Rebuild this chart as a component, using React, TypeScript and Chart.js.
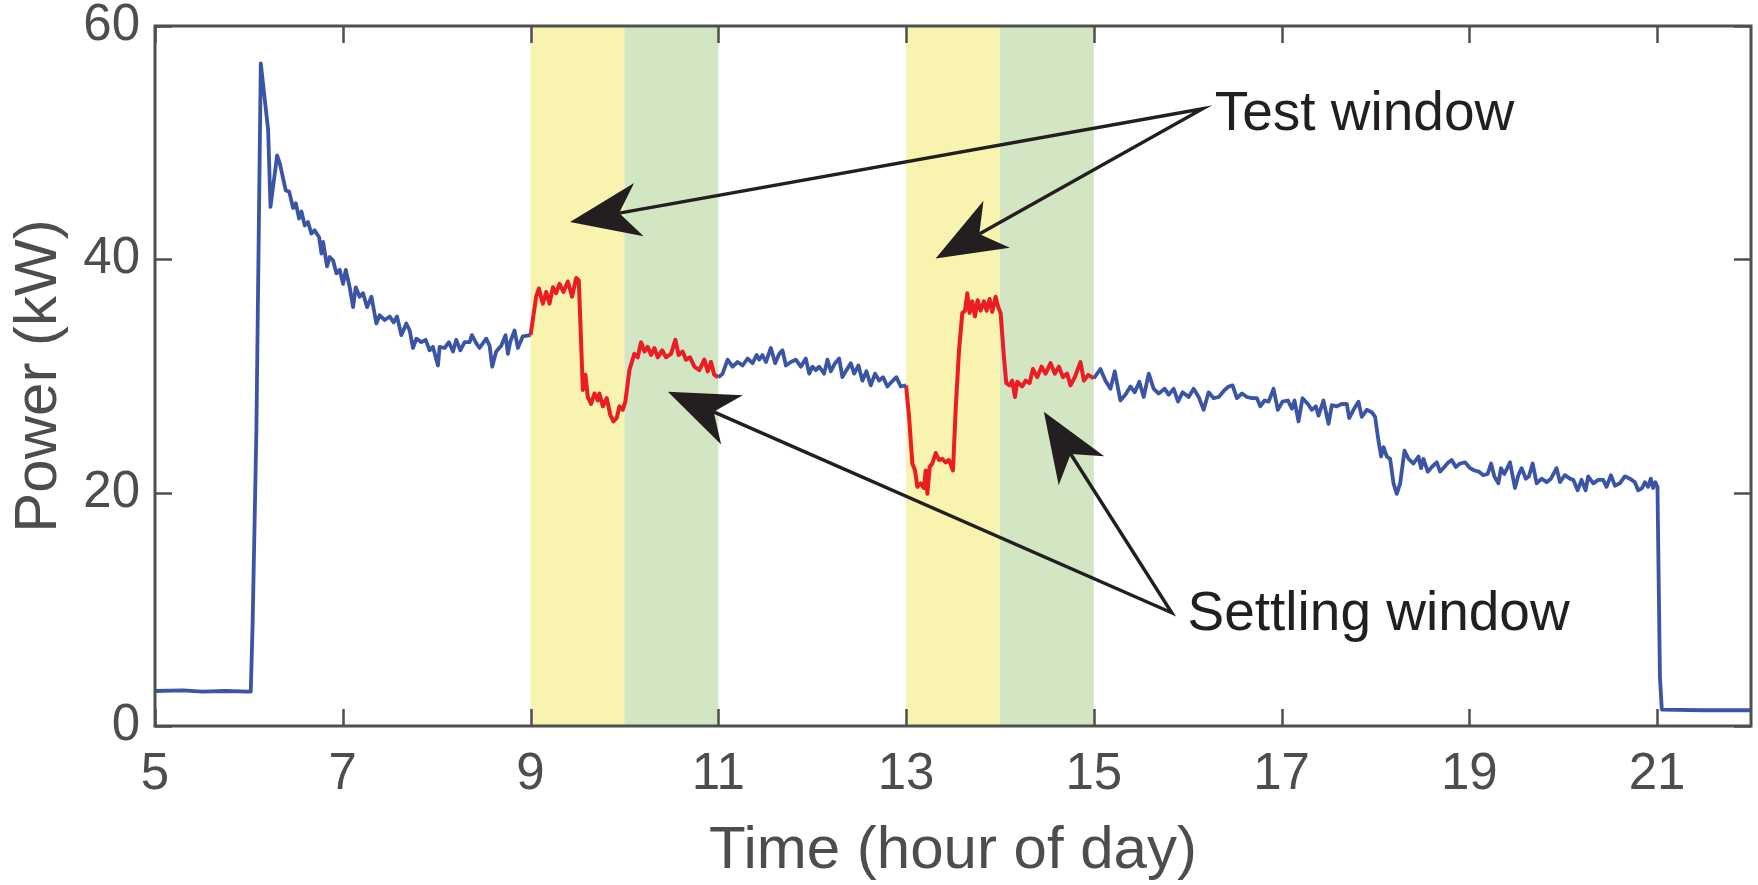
import React, { useEffect, useRef } from "react";
import { Chart, registerables } from "chart.js";

Chart.register(...registerables);

// ---------- data ----------
const X_TICKS = [5, 7, 9, 11, 13, 15, 17, 19, 21];
const Y_TICKS = [0, 20, 40, 60];
const X_RANGE = [5, 22];
const Y_RANGE = [0, 60];

// shaded windows [start hour, end hour]
const TEST_WINDOWS: [number, number][] = [[9, 10], [13, 14]];
const SETTLING_WINDOWS: [number, number][] = [[10, 11], [14, 15]];

// [hour, kW]
const BLUE_MORNING: [number, number][] = [
  [5.0, 3.0], [5.3, 3.05], [5.5, 2.95], [5.75, 3.0], [6.0, 2.95], [6.02, 2.95],
  [6.04, 8.8], [6.08, 25.4], [6.127, 56.8], [6.205, 51.1], [6.23, 44.5],
  [6.301, 48.9], [6.33, 48.2], [6.393, 45.9], [6.429, 45.8], [6.471, 44.4], [6.5, 44.8],
  [6.535, 43.5], [6.56, 44.1], [6.595, 42.9], [6.63, 43.2], [6.666, 42.2], [6.7, 42.5],
  [6.748, 41.9], [6.773, 40.5], [6.79, 41.5], [6.833, 39.4], [6.861, 40.2], [6.897, 39.9],
  [6.932, 38.8], [6.968, 39.1], [7.003, 37.9], [7.032, 39.1], [7.074, 37.6], [7.11, 35.9],
  [7.138, 37.6], [7.18, 36.8], [7.216, 37.1], [7.259, 35.9], [7.305, 36.8], [7.358, 34.5],
  [7.393, 35.2], [7.447, 34.8], [7.5, 35.1], [7.542, 34.6], [7.578, 35.1], [7.624, 33.5],
  [7.677, 34.5], [7.713, 33.9], [7.748, 32.4], [7.784, 33.2], [7.837, 32.9], [7.883, 33.1],
  [7.925, 32.2], [7.96, 32.5], [8.014, 30.9], [8.032, 32.5], [8.085, 32.4], [8.131, 32.9],
  [8.174, 32.1], [8.209, 33.1], [8.252, 32.2], [8.298, 32.9], [8.351, 32.9], [8.376, 33.5],
  [8.422, 32.8], [8.457, 32.4], [8.528, 33.2], [8.564, 32.6], [8.592, 30.8], [8.634, 32.1],
  [8.688, 32.6], [8.734, 33.5], [8.759, 31.9], [8.783, 32.9], [8.83, 33.9], [8.865, 32.4],
  [8.918, 33.4], [9.0, 33.5],
];

const RED_TEST_1: [number, number][] = [
  [9.0, 33.5], [9.06, 36.8], [9.089, 37.5], [9.131, 36.2], [9.167, 37.2], [9.202, 36.2],
  [9.238, 37.6], [9.273, 37.1], [9.309, 37.9], [9.351, 37.2], [9.397, 38.1], [9.443, 36.8],
  [9.486, 38.4], [9.514, 38.2], [9.539, 32.8], [9.557, 28.8], [9.585, 30.1], [9.61, 28.2],
  [9.645, 27.6], [9.681, 28.5], [9.716, 27.9], [9.734, 28.5], [9.77, 27.4], [9.812, 28.1],
  [9.848, 26.7], [9.883, 26.1], [9.918, 26.4], [9.947, 27.4], [9.982, 27.1], [10.01, 27.8],
  [10.053, 30.5], [10.106, 31.9], [10.142, 31.6], [10.177, 32.9], [10.213, 32.1],
  [10.248, 32.5], [10.284, 31.8], [10.319, 32.4], [10.355, 31.6], [10.401, 32.2],
  [10.443, 31.6], [10.496, 31.9], [10.543, 33.1], [10.578, 31.8], [10.62, 32.1],
  [10.656, 31.4], [10.699, 31.6], [10.745, 30.8], [10.798, 30.5], [10.851, 31.4],
  [10.887, 30.4], [10.922, 31.2], [10.957, 30.1], [11.0, 29.9],
];

const BLUE_MIDDAY: [number, number][] = [
  [11.0, 29.9], [11.046, 30.2], [11.099, 31.4], [11.152, 30.8], [11.206, 31.2],
  [11.259, 30.9], [11.312, 31.5], [11.365, 31.1], [11.408, 31.8], [11.436, 31.4],
  [11.47, 31.8], [11.507, 31.2], [11.56, 32.4], [11.606, 31.1], [11.649, 31.9],
  [11.684, 32.2], [11.72, 30.9], [11.773, 31.2], [11.826, 31.4], [11.879, 30.8],
  [11.932, 31.5], [11.968, 30.2], [12.003, 30.8], [12.039, 30.5], [12.074, 30.8],
  [12.127, 30.2], [12.163, 31.4], [12.198, 30.4], [12.244, 31.1], [12.287, 31.5],
  [12.322, 29.9], [12.365, 30.5], [12.411, 31.1], [12.447, 30.2], [12.493, 30.9],
  [12.535, 29.6], [12.578, 30.4], [12.624, 29.2], [12.67, 30.2], [12.713, 29.6],
  [12.755, 29.9], [12.801, 29.1], [12.847, 29.5], [12.897, 29.9], [12.943, 29.1],
  [13.0, 29.2],
];

const RED_TEST_2: [number, number][] = [
  [13.0, 29.2], [13.032, 26.5], [13.067, 22.5], [13.096, 21.9], [13.12, 20.5],
  [13.156, 20.8], [13.191, 20.4], [13.209, 21.9], [13.227, 19.9], [13.252, 22.2],
  [13.28, 22.5], [13.316, 23.4], [13.351, 22.8], [13.386, 22.9], [13.422, 22.6],
  [13.457, 22.8], [13.5, 21.9], [13.528, 27.1], [13.564, 32.2], [13.599, 35.4],
  [13.628, 35.6], [13.652, 37.1], [13.677, 35.4], [13.705, 36.4], [13.734, 35.1],
  [13.762, 36.5], [13.794, 35.6], [13.83, 36.4], [13.858, 35.6], [13.89, 36.6],
  [13.918, 35.5], [13.954, 36.8], [13.982, 35.9], [14.007, 35.4], [14.043, 31.6],
  [14.067, 29.4], [14.103, 29.2], [14.131, 29.6], [14.16, 28.2], [14.184, 29.5],
  [14.237, 29.1], [14.273, 29.6], [14.316, 29.4], [14.351, 30.6], [14.397, 29.9],
  [14.443, 30.8], [14.486, 30.2], [14.539, 31.1], [14.585, 30.2], [14.628, 30.8],
  [14.67, 29.9], [14.716, 30.2], [14.752, 29.2], [14.798, 29.9], [14.858, 31.2],
  [14.894, 29.6], [14.94, 30.1], [15.0, 29.8],
];

const BLUE_AFTERNOON: [number, number][] = [
  [15.0, 29.8], [15.07, 30.6], [15.124, 29.6], [15.177, 28.9], [15.223, 30.4],
  [15.283, 27.9], [15.336, 28.4], [15.39, 29.1], [15.436, 28.6], [15.485, 29.5],
  [15.531, 28.2], [15.585, 30.2], [15.638, 28.9], [15.691, 28.5], [15.755, 28.9],
  [15.797, 28.4], [15.851, 28.9], [15.897, 27.8], [15.946, 28.6], [16.01, 28.2],
  [16.063, 28.9], [16.117, 28.2], [16.17, 27.1], [16.223, 28.6], [16.276, 28.1],
  [16.33, 28.2], [16.393, 28.8], [16.436, 29.1], [16.478, 29.2], [16.524, 28.1],
  [16.578, 28.5], [16.631, 28.2], [16.684, 28.1], [16.737, 28.1], [16.773, 27.4],
  [16.819, 27.9], [16.862, 27.8], [16.914, 28.9], [16.96, 27.1], [17.01, 27.8],
  [17.067, 27.9], [17.11, 27.2], [17.138, 27.9], [17.18, 26.1], [17.223, 28.1],
  [17.28, 27.6], [17.322, 27.1], [17.365, 27.4], [17.393, 26.6], [17.446, 27.9],
  [17.5, 25.9], [17.535, 27.5], [17.588, 27.4], [17.642, 27.6], [17.695, 27.6],
  [17.72, 26.4], [17.766, 27.1], [17.819, 27.8], [17.854, 26.5], [17.907, 27.1],
  [17.96, 26.9], [17.996, 26.5], [18.031, 24.5], [18.06, 23.1], [18.086, 23.9],
  [18.121, 23.1], [18.156, 22.9], [18.192, 20.8], [18.227, 19.9], [18.263, 20.8],
  [18.309, 23.6], [18.352, 22.9], [18.405, 22.5], [18.458, 23.1], [18.486, 22.1],
  [18.511, 22.9], [18.557, 21.8], [18.6, 22.2], [18.653, 22.6], [18.688, 21.8],
  [18.734, 22.2], [18.777, 22.6], [18.812, 22.8], [18.855, 22.2], [18.901, 22.5],
  [18.954, 22.6], [19.008, 22.1], [19.054, 21.9], [19.103, 21.8], [19.149, 21.5],
  [19.195, 21.6], [19.231, 22.5], [19.266, 21.4], [19.309, 20.8], [19.337, 22.1],
  [19.373, 21.6], [19.433, 22.6], [19.486, 20.4], [19.522, 21.5], [19.557, 22.1],
  [19.6, 21.2], [19.635, 21.4], [19.674, 22.5], [19.717, 20.8], [19.77, 21.2],
  [19.823, 20.9], [19.869, 21.2], [19.929, 22.1], [19.965, 20.9], [20.018, 21.5],
  [20.071, 21.2], [20.107, 21.1], [20.153, 20.2], [20.195, 21.1], [20.238, 20.2],
  [20.266, 21.4], [20.32, 20.8], [20.373, 21.1], [20.426, 21.1], [20.461, 20.5],
  [20.508, 21.5], [20.55, 20.6], [20.603, 20.8], [20.656, 21.4], [20.709, 21.2],
  [20.763, 20.9], [20.798, 20.2], [20.841, 20.4], [20.869, 20.9], [20.904, 20.5],
  [20.933, 21.2], [20.957, 20.4], [20.982, 20.9], [21.004, 20.5], [21.011, 15.9],
  [21.03, 4.2], [21.05, 1.4], [21.5, 1.35], [22.0, 1.35],
];

// annotation anchors in data units [hour, kW]
const TEST_LABEL = { text: "Test window", at: [16.287, 51.07] as [number, number] };
const SETTLING_LABEL = { text: "Settling window", at: [15.998, 8.23] as [number, number] };
const TEST_TAIL: [number, number] = [16.16, 52.91];
const TEST_TIPS: [number, number][] = [[9.42, 43.21], [13.315, 40.08]];
const SETTLING_TAIL: [number, number] = [15.83, 9.71];
const SETTLING_TIPS: [number, number][] = [[10.463, 28.65], [14.468, 26.93]];

// ---------- styles ----------
const FONT = '"Liberation Sans", Arial, Helvetica, sans-serif';
const AXIS_COLOR = "#4f4f51";
const TEXT_COLOR = "#4d4d4f";
const BLUE = "#3a55a6";
const RED = "#ec1c24";
const YELLOW = "#f8f4b0";
const GREEN = "#d2e6c4";
const INK = "#231f20";

const toXY = (arr: [number, number][]) => arr.map(([x, y]) => ({ x, y }));

const overlayPlugin = {
  id: "overlay",
  beforeDatasetsDraw(chart: any) {
    const { ctx, chartArea: a, scales } = chart;
    const xs = scales.x;
    ctx.save();
    const band = (w: [number, number], color: string) => {
      const x0 = xs.getPixelForValue(w[0]);
      const x1 = xs.getPixelForValue(w[1]);
      ctx.fillStyle = color;
      ctx.fillRect(x0, a.top, x1 - x0, a.bottom - a.top);
    };
    TEST_WINDOWS.forEach((w) => band(w, YELLOW));
    SETTLING_WINDOWS.forEach((w) => band(w, GREEN));
    ctx.restore();
  },
  afterDatasetsDraw(chart: any) {
    const { ctx, chartArea: a, scales } = chart;
    const xs = scales.x;
    const ys = scales.y;
    ctx.save();
    ctx.strokeStyle = AXIS_COLOR;
    // ticks (inward, mirrored)
    ctx.lineWidth = 2.5;
    const TL = 17;
    ctx.beginPath();
    X_TICKS.forEach((v) => {
      const px = Math.round(xs.getPixelForValue(v)) + 0.5;
      ctx.moveTo(px, a.bottom);
      ctx.lineTo(px, a.bottom - TL);
      ctx.moveTo(px, a.top);
      ctx.lineTo(px, a.top + TL);
    });
    Y_TICKS.forEach((v) => {
      const py = Math.round(ys.getPixelForValue(v)) + 0.5;
      ctx.moveTo(a.left, py);
      ctx.lineTo(a.left + TL, py);
      ctx.moveTo(a.right, py);
      ctx.lineTo(a.right - TL, py);
    });
    ctx.stroke();
    // frame
    ctx.lineWidth = 3;
    ctx.strokeRect(a.left, a.top, a.right - a.left, a.bottom - a.top);
    ctx.restore();
  },
  afterDraw(chart: any) {
    const { ctx, scales } = chart;
    const xs = scales.x;
    const ys = scales.y;
    const P = (p: [number, number]) => ({ x: xs.getPixelForValue(p[0]), y: ys.getPixelForValue(p[1]) });
    const L = 70, W = 27, N = 50;
    ctx.save();
    ctx.strokeStyle = INK;
    ctx.fillStyle = INK;
    ctx.lineWidth = 3.4;
    ctx.lineJoin = "miter";
    const group = (tailD: [number, number], tipsD: [number, number][]) => {
      const tail = P(tailD);
      const heads = tipsD.map((t) => {
        const tip = P(t);
        const dx = tail.x - tip.x, dy = tail.y - tip.y;
        const len = Math.hypot(dx, dy);
        const ux = dx / len, uy = dy / len;
        const nx = -uy, ny = ux;
        return { tip, ux, uy, nx, ny, notch: { x: tip.x + ux * N, y: tip.y + uy * N } };
      });
      // shafts meeting at the tail
      ctx.beginPath();
      ctx.moveTo(heads[0].notch.x, heads[0].notch.y);
      ctx.lineTo(tail.x, tail.y);
      ctx.lineTo(heads[1].notch.x, heads[1].notch.y);
      ctx.stroke();
      heads.forEach((h) => {
        ctx.beginPath();
        ctx.moveTo(h.tip.x, h.tip.y);
        ctx.lineTo(h.tip.x + h.ux * L + h.nx * W, h.tip.y + h.uy * L + h.ny * W);
        ctx.lineTo(h.notch.x, h.notch.y);
        ctx.lineTo(h.tip.x + h.ux * L - h.nx * W, h.tip.y + h.uy * L - h.ny * W);
        ctx.closePath();
        ctx.fill();
      });
    };
    group(TEST_TAIL, TEST_TIPS);
    group(SETTLING_TAIL, SETTLING_TIPS);
    ctx.font = `55px ${FONT}`;
    ctx.textAlign = "left";
    ctx.textBaseline = "alphabetic";
    [TEST_LABEL, SETTLING_LABEL].forEach((lab) => {
      const p = P(lab.at);
      ctx.fillText(lab.text, p.x, p.y);
    });
    ctx.restore();
  },
};

export default function App() {
  const ref = useRef<HTMLCanvasElement | null>(null);

  useEffect(() => {
    document.body.style.margin = "0";
    const canvas = ref.current;
    if (!canvas) return;
    const lineDs = (data: [number, number][], color: string, width: number) => ({
      data: toXY(data),
      borderColor: color,
      backgroundColor: color,
      borderWidth: width,
      pointRadius: 0,
      tension: 0,
      fill: false,
      borderJoinStyle: "round" as const,
    });
    const chart = new Chart(canvas, {
      type: "line",
      data: {
        datasets: [
          lineDs(BLUE_MORNING, BLUE, 3.8),
          lineDs(BLUE_MIDDAY, BLUE, 3.8),
          lineDs(BLUE_AFTERNOON, BLUE, 3.8),
          lineDs(RED_TEST_1, RED, 4),
          lineDs(RED_TEST_2, RED, 4),
        ],
      },
      options: {
        animation: false,
        responsive: false,
        devicePixelRatio: 1,
        layout: { padding: { top: 26, right: 7, left: 0, bottom: 0 } },
        plugins: { legend: { display: false }, tooltip: { enabled: false } },
        events: [],
        scales: {
          x: {
            type: "linear",
            position: "bottom",
            min: X_RANGE[0],
            max: X_RANGE[1],
            afterBuildTicks: (s: any) => {
              s.ticks = X_TICKS.map((v) => ({ value: v }));
            },
            afterFit: (s: any) => {
              s.height = 159;
              s.paddingLeft = 0;
              s.paddingRight = 0;
            },
            grid: { display: false, drawTicks: false },
            border: { display: false },
            ticks: {
              autoSkip: false,
              maxRotation: 0,
              padding: 23,
              color: TEXT_COLOR,
              font: { family: FONT, size: 51, lineHeight: 1 },
              callback: (v: any) => String(v),
            },
            title: {
              display: true,
              text: "Time (hour of day)",
              color: TEXT_COLOR,
              font: { family: FONT, size: 60, lineHeight: 1 },
              padding: { top: 0, bottom: 4 },
            },
          },
          y: {
            type: "linear",
            position: "left",
            min: Y_RANGE[0],
            max: Y_RANGE[1],
            afterBuildTicks: (s: any) => {
              s.ticks = Y_TICKS.map((v) => ({ value: v }));
            },
            afterFit: (s: any) => {
              s.width = 155;
              s.paddingTop = 0;
              s.paddingBottom = 0;
            },
            grid: { display: false, drawTicks: false },
            border: { display: false },
            ticks: {
              padding: 15,
              color: TEXT_COLOR,
              font: { family: FONT, size: 51, lineHeight: 1 },
              callback: (v: any) => String(v),
            },
            title: {
              display: true,
              text: "Power (kW)",
              color: TEXT_COLOR,
              font: { family: FONT, size: 60, lineHeight: 1 },
              padding: { top: 9, bottom: 0 },
            },
          },
        },
      },
      plugins: [overlayPlugin],
    } as any);
    return () => chart.destroy();
  }, []);

  return (
    <div style={{ width: 1758, height: 885, background: "#fff" }}>
      <canvas ref={ref} width={1758} height={885} style={{ display: "block", width: 1758, height: 885 }} />
    </div>
  );
}
